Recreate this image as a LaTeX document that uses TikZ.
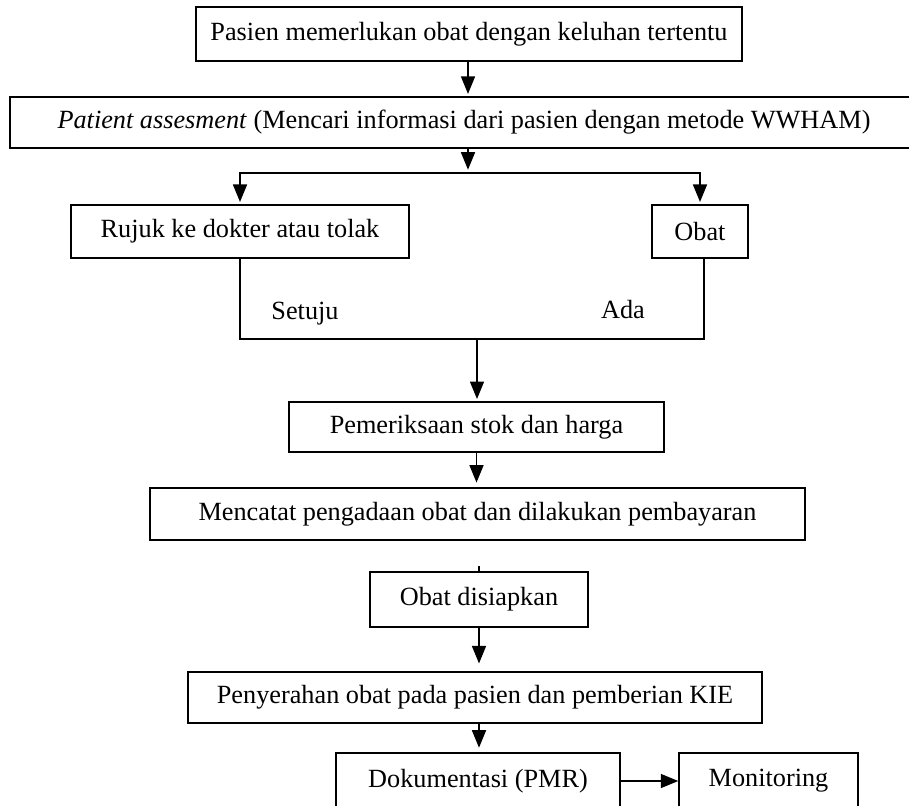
\documentclass[tikz,border=0pt]{standalone}
\usepackage{fontspec}
\setmainfont{Liberation Serif}
\usetikzlibrary{positioning,arrows.meta}

\begin{document}
\begin{tikzpicture}[x=0.1606cm, y=-0.1606cm,
	% kotak proses
	proses/.style={
		draw=black,
		line width=0.8pt,
		inner sep=0pt,
		font=\fontsize{12}{14}\selectfont,
		anchor=center
	},
	% panah dan garis penghubung
	panah/.style={line width=0.7pt, -{Triangle[length=8pt,width=6.4pt]}, shorten >=1pt},
	garis/.style={line width=0.7pt},
	ket/.style={font=\fontsize{12}{14}\selectfont, inner sep=0pt}
	]
	\clip (0,0) rectangle (90.9,80.6);
	
	% Kotak-kotak alur pelayanan
	\node[proses, minimum width=8.77cm, minimum height=0.87cm] (pasien) at (46.9,3.4) {Pasien memerlukan obat dengan keluhan tertentu};
	\node[proses, minimum width=14.58cm, minimum height=0.82cm] (assess) at (46.4,12.25) {\textit{Patient assesment} (Mencari informasi dari pasien dengan metode WWHAM)};
	\node[proses, minimum width=5.43cm, minimum height=0.85cm] (rujuk) at (24.0,23.15) {Rujuk ke dokter atau tolak};
	\node[proses, minimum width=1.54cm, minimum height=0.85cm] (obat) at (70.0,23.15) {Obat};
	\node[proses, minimum width=6.02cm, minimum height=0.80cm] (periksa) at (47.65,42.7) {Pemeriksaan stok dan harga};
	\node[proses, minimum width=10.52cm, minimum height=0.84cm] (catat) at (47.75,51.4) {Mencatat pengadaan obat dan dilakukan pembayaran};
	\node[proses, minimum width=3.50cm, minimum height=0.88cm] (siap) at (47.9,59.95) {Obat disiapkan};
	\node[proses, minimum width=9.22cm, minimum height=0.82cm] (serah) at (47.5,69.75) {Penyerahan obat pada pasien dan pemberian KIE};
	\node[proses, minimum width=4.56cm, minimum height=0.90cm] (dok) at (47.8,78.1) {Dokumentasi (PMR)};
	\node[proses, minimum width=2.87cm, minimum height=0.90cm] (mon) at (76.85,78.1) {Monitoring};
	
	% Keterangan cabang
	\node[ket] (setuju) at (30.5,31.4) {Setuju};
	\node[ket] (ada) at (62.3,31.0) {Ada};
	
	% Titik cabang dan titik gabung
	\coordinate (cabang) at (46.8,17.3);
	\coordinate (gabung) at (47.7,33.9);
	
	% Penghubung
	\draw[panah] (pasien.south -| cabang) -- (assess.north -| cabang);
	\draw[panah, shorten >=1.5pt] (assess.south -| cabang) -- (cabang);
	\draw[panah] (cabang) -| (rujuk.north);
	\draw[panah] (cabang) -| (obat.north);
	\draw[garis] (rujuk.south) |- (gabung) -| ([xshift=0.06cm]obat.south);
	\draw[panah] (gabung) -- (gabung |- periksa.north);
	\draw[panah, shorten >=2pt] (periksa.south) -- (periksa.south |- catat.north);
	\draw[garis] (siap.north) -- ++(0,-0.5);
	\draw[panah, shorten >=3.5pt] (siap.south) -- (siap.south |- serah.north);
	\draw[panah, shorten >=2pt] (serah.south -| siap.south) -- (siap.south |- dok.north);
	\draw[panah, shorten >=0pt] (dok) -- (mon);
\end{tikzpicture}
\end{document}
